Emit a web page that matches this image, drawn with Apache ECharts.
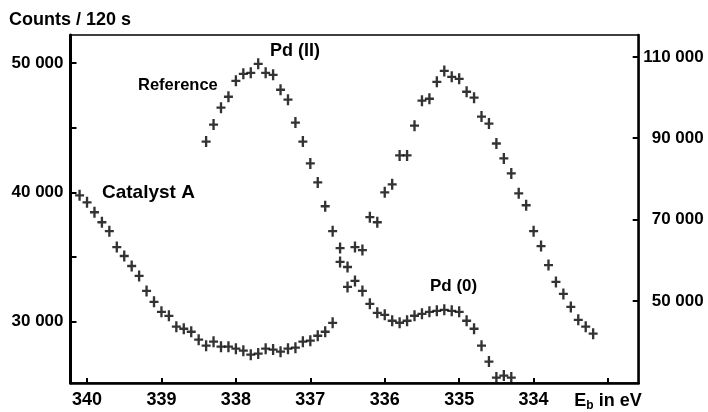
<!DOCTYPE html>
<html>
<head>
<meta charset="utf-8">
<script src="https://cdn.jsdelivr.net/npm/echarts@6/dist/echarts.min.js"></script>
<style>html,body{margin:0;padding:0;background:#fff;}#c{width:708px;height:412px;}</style>
</head>
<body>
<div id="c"></div>
<script>
// Binding energy ticks (eV) and labels
const xTicks = [340, 339, 338, 337, 336, 335, 334, 333];
const leftTicks = [30000, 35000, 40000, 45000, 50000];
const leftLabels = [30000, 40000, 50000];
const rightTicks = [50000, 70000, 90000, 110000];

// Catalyst A (left axis)
const catalystBE = [340.1,340.0,339.9,339.8,339.7,339.6,339.5,339.4,339.3,339.2,339.1,339.0,338.9,338.8,338.7,338.6,338.5,338.4,338.3,338.2,338.1,338.0,337.9,337.8,337.7,337.6,337.5,337.4,337.3,337.2,337.1,337.0,336.9,336.8,336.7,336.6,336.5,336.4,336.3,336.2,336.1,336.0,335.9,335.8,335.7,335.6,335.5,335.4,335.3,335.2,335.1,335.0,334.9,334.8,334.7,334.6,334.5,334.4,334.3,334.2,334.1,334.0,333.9,333.8,333.7,333.6,333.5,333.4,333.3,333.2];
const catalystCounts = [39770,39230,38460,37690,37000,35770,35080,34310,33540,32380,31540,30770,30460,29620,29460,29230,28620,28150,28460,28080,28080,27920,27770,27460,27540,27920,27850,27690,27920,28000,28460,28540,28920,29230,29920,34620,34230,35770,35540,38080,37690,40000,40620,42850,42850,45150,47080,47230,48540,49380,48920,48770,47770,47310,45850,45310,43770,42620,41460,39920,39000,37000,35850,34380,33080,32150,31150,30150,29620,29080];

// Reference (right axis)
const referenceBE = [338.4,338.3,338.2,338.1,338.0,337.9,337.8,337.7,337.6,337.5,337.4,337.3,337.2,337.1,337.0,336.9,336.8,336.7,336.6,336.5,336.4,336.3,336.2,336.1,336.0,335.9,335.8,335.7,335.6,335.5,335.4,335.3,335.2,335.1,335.0,334.9,334.8,334.7,334.6,334.5,334.4,334.3];
const referenceCounts = [89180,93350,97510,100200,104120,105840,106080,108290,106080,105590,101920,99470,93840,89180,83800,79140,73270,67140,62980,53430,54900,52450,49260,47060,46570,45100,44610,45100,46330,46820,47310,47550,47800,47550,47310,45100,43140,38980,35060,31140,31630,31140];

const FONT = 'Liberation Sans';
const fmt = v => { const s = String(v); return s.slice(0, s.length - 3) + ' ' + s.slice(-3); };
const plus = 'path://M3.7,0H6.3V3.95H10V6.05H6.3V10H3.7V6.05H0V3.95H3.7Z';

const chart = echarts.init(document.getElementById('c'), null, {renderer: 'canvas'});
chart.setOption({
  animation: false,
  backgroundColor: '#fff',
  grid: {left: 70.5, right: 69.3, top: 35, bottom: 27.5, show: true, borderColor: '#000', borderWidth: 1.5},
  xAxis: {
    type: 'value', inverse: true, min: 332.588, max: 340.222,
    axisLine: {lineStyle: {color: '#000', width: 2.5}},
    axisTick: {inside: true, length: 5, lineStyle: {color: '#000', width: 2}, customValues: xTicks},
    axisLabel: {
      customValues: xTicks, margin: 8, color: '#000', fontFamily: FONT, fontWeight: 'bold', fontSize: 18,
      formatter: v => v === 333 ? '{a|E}{b|b}{a| in eV}' : String(v),
      rich: {
        a: {fontFamily: FONT, fontWeight: 'bold', fontSize: 18, color: '#000'},
        b: {fontFamily: FONT, fontWeight: 'bold', fontSize: 12, color: '#000', padding: [9, 0, 0, 0]}
      }
    },
    splitLine: {show: false}
  },
  yAxis: [{
    type: 'value', position: 'left', min: 25270, max: 52154,
    axisLine: {show: true, lineStyle: {color: '#000', width: 3}},
    axisTick: {show: true, inside: true, length: 6, lineStyle: {color: '#000', width: 2}, customValues: leftTicks},
    axisLabel: {customValues: leftLabels, margin: 7, color: '#000', fontFamily: FONT, fontWeight: 'bold', fontSize: 17, formatter: fmt},
    splitLine: {show: false}
  }, {
    type: 'value', position: 'right', min: 29796, max: 115388,
    axisLine: {show: true, lineStyle: {color: '#000', width: 2.5}},
    axisTick: {show: true, inside: true, length: 6, lineStyle: {color: '#000', width: 2}, customValues: rightTicks},
    axisLabel: {customValues: rightTicks, margin: 65, align: 'right', color: '#000', fontFamily: FONT, fontWeight: 'bold', fontSize: 17, formatter: fmt},
    splitLine: {show: false}
  }],
  series: [{
    name: 'Catalyst A', type: 'scatter', xAxisIndex: 0, yAxisIndex: 0,
    symbol: plus, symbolSize: [9, 11], itemStyle: {color: '#000'},
    data: catalystBE.map((x, i) => [x, catalystCounts[i]])
  }, {
    name: 'Reference', type: 'scatter', xAxisIndex: 0, yAxisIndex: 1,
    symbol: plus, symbolSize: [9, 11], itemStyle: {color: '#000'},
    data: referenceBE.map((x, i) => [x, referenceCounts[i]])
  }],
  graphic: [
    {type: 'text', x: 9, y: 20, style: {text: 'Counts / 120 s', font: 'bold 18px "Liberation Sans"', fill: '#000', verticalAlign: 'middle'}},
    {type: 'text', x: 138, y: 85, style: {text: 'Reference', font: 'bold 16.5px "Liberation Sans"', fill: '#000', verticalAlign: 'middle'}},
    {type: 'text', x: 270, y: 51, style: {text: 'Pd (II)', font: 'bold 18px "Liberation Sans"', fill: '#000', verticalAlign: 'middle'}},
    {type: 'text', x: 102, y: 193, style: {text: 'Catalyst A', font: 'bold 19px "Liberation Sans"', fill: '#000', verticalAlign: 'middle'}},
    {type: 'text', x: 430, y: 286, style: {text: 'Pd (0)', font: 'bold 17px "Liberation Sans"', fill: '#000', verticalAlign: 'middle'}}
  ]
});
</script>
</body>
</html>
